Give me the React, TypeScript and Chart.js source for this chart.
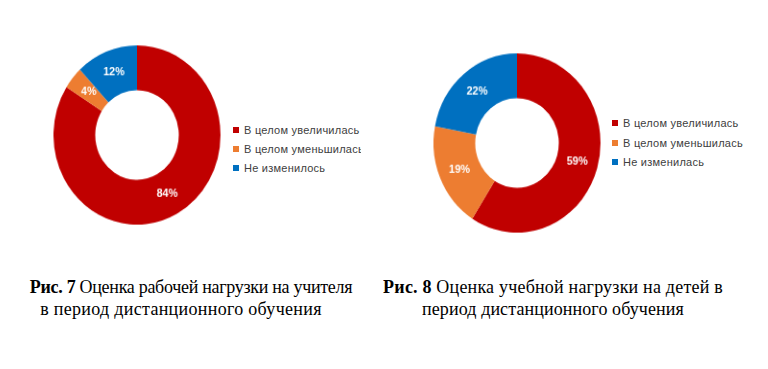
import React, { useEffect, useRef } from "react";
import { Chart, registerables } from "chart.js";

Chart.register(...registerables);

const categories1 = ["В целом увеличилась", "В целом уменьшилась", "Не изменилось"];
const values1 = [84, 4, 12];
const categories2 = ["В целом увеличилась", "В целом уменьшилась", "Не изменилась"];
const values2 = [59, 19, 22];
const colors = ["#C00000", "#ED7D31", "#0070C0"];

const caption1 = { bold: "Рис. 7", line1: " Оценка рабочей нагрузки на учителя", line2: "в период дистанционного обучения" };
const caption2 = { bold: "Рис. 8", line1: " Оценка учебной нагрузки на детей в", line2: "период дистанционного обучения" };

const labelPlugin = {
  id: "pctLabels",
  afterDatasetsDraw(chart: any) {
    const ctx = chart.ctx;
    const meta = chart.getDatasetMeta(0);
    const data = chart.data.datasets[0].data as number[];
    ctx.save();
    ctx.fillStyle = "#FFFFFF";
    ctx.font = "bold 11px 'Liberation Sans', Arial, sans-serif";
    ctx.textAlign = "center";
    ctx.textBaseline = "middle";
    meta.data.forEach((arc: any, i: number) => {
      const p = arc.tooltipPosition();
      ctx.fillText(data[i] + "%", p.x, p.y);
    });
    ctx.restore();
  },
};

function Doughnut({ labels, values, cx, cy, size }: { labels: string[]; values: number[]; cx: number; cy: number; size: number }) {
  const ref = useRef<HTMLCanvasElement>(null);
  useEffect(() => {
    if (!ref.current) return;
    const chart = new Chart(ref.current, {
      type: "doughnut",
      data: {
        labels,
        datasets: [{ data: values, backgroundColor: colors, borderWidth: 0 }],
      },
      options: {
        responsive: false,
        animation: false,
        cutout: "50%",
        layout: { padding: 0 },
        plugins: { legend: { display: false }, tooltip: { enabled: false } },
      },
      plugins: [labelPlugin],
    });
    return () => chart.destroy();
  }, []);
  return (
    <div
      style={{
        position: "absolute",
        left: cx - size / 2,
        top: cy - size / 2,
        width: size,
        height: size,
        transform: "scale(0.96, 1.03)",
        transformOrigin: "50% 50%",
      }}
    >
      <canvas ref={ref} width={size} height={size} style={{ display: "block" }} />
    </div>
  );
}

function Legend({ labels, left, top, step, clipWidth }: { labels: string[]; left: number; top: number; step: number; clipWidth: number }) {
  return (
    <>
      {labels.map((l, i) => (
        <div
          key={i}
          style={{
            position: "absolute",
            left,
            top: top + i * step - 7,
            height: 14,
            width: clipWidth,
            overflow: "hidden",
            whiteSpace: "nowrap",
            display: "flex",
            alignItems: "center",
            fontFamily: "'Liberation Sans', Arial, sans-serif",
            fontSize: 11,
            letterSpacing: "0.25px",
            color: "#404040",
          }}
        >
          <span style={{ display: "inline-block", width: 6, height: 6, background: colors[i], marginRight: 5, flex: "none" }} />
          <span>{l}</span>
        </div>
      ))}
    </>
  );
}

function CaptionLine({ children, center, top, spacing }: { children: React.ReactNode; center: number; top: number; spacing: number }) {
  return (
    <div
      style={{
        position: "absolute",
        left: center - 250,
        width: 500,
        top,
        height: 22,
        lineHeight: "22px",
        textAlign: "center",
        fontFamily: "'Liberation Serif', 'Times New Roman', serif",
        fontSize: 18,
        letterSpacing: spacing + "px",
        color: "#000",
        whiteSpace: "nowrap",
        transform: "scaleY(1.1)",
        transformOrigin: "50% 50%",
      }}
    >
      {children}
    </div>
  );
}

export default function App() {
  return (
    <div style={{ position: "absolute", left: 0, top: 0, width: 768, height: 369, background: "#fff", overflow: "hidden" }}>
      <Doughnut labels={categories1} values={values1} cx={137} cy={135} size={174} />
      <Legend labels={categories1} left={233} top={130} step={19} clipWidth={128} />
      <Doughnut labels={categories2} values={values2} cx={517} cy={143} size={174} />
      <Legend labels={categories2} left={612} top={123} step={19.5} clipWidth={150} />
      <CaptionLine center={191} top={275} spacing={-0.3}>
        <b>{caption1.bold}</b>
        {caption1.line1}
      </CaptionLine>
      <CaptionLine center={181} top={297} spacing={0.3}>{caption1.line2}</CaptionLine>
      <CaptionLine center={553} top={275} spacing={0.2}>
        <b>{caption2.bold}</b>
        {caption2.line1}
      </CaptionLine>
      <CaptionLine center={553} top={297} spacing={0.1}>{caption2.line2}</CaptionLine>
    </div>
  );
}
